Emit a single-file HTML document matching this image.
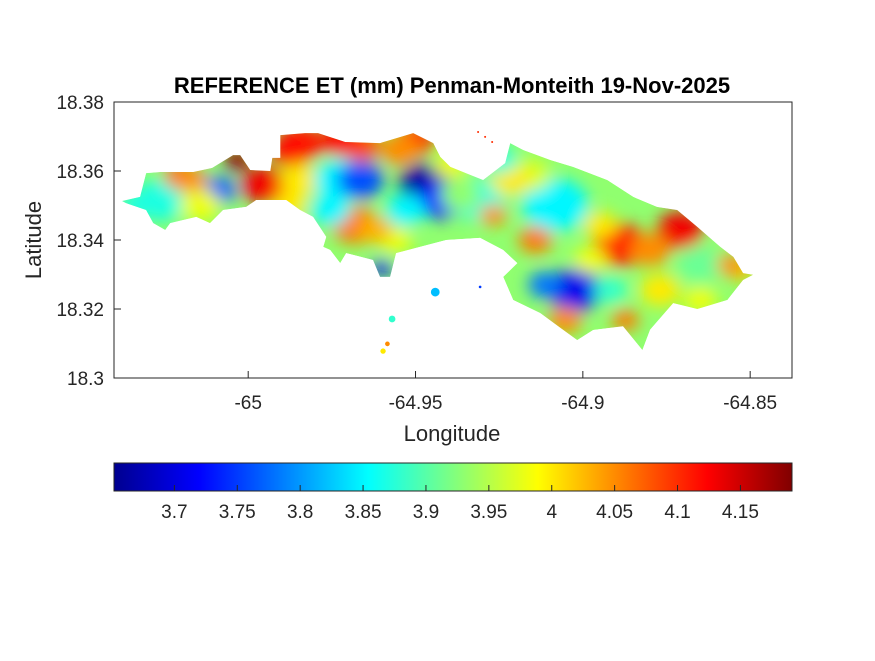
<!DOCTYPE html>
<html><head><meta charset="utf-8">
<style>
body{margin:0;background:#fff;}
svg text{font-family:"Liberation Sans",Arial,sans-serif;fill:#262626;}
</style></head>
<body>
<svg id="chart" width="875" height="656" viewBox="0 0 875 656" xmlns="http://www.w3.org/2000/svg">
<defs>
  <filter id="blur" x="-20%" y="-20%" width="140%" height="140%"><feGaussianBlur stdDeviation="8"/></filter>
  <linearGradient id="jet" x1="0" x2="1" y1="0" y2="0">
    <stop offset="0" stop-color="#00008F"/><stop offset="0.125" stop-color="#0000FF"/>
    <stop offset="0.375" stop-color="#00FFFF"/><stop offset="0.625" stop-color="#FFFF00"/>
    <stop offset="0.875" stop-color="#FF0000"/><stop offset="1" stop-color="#800000"/>
  </linearGradient>
  <clipPath id="islandClip"><polygon id="clipPoly"/></clipPath>
</defs>
<rect x="114" y="102" width="678" height="276" fill="#fff"/>
<g id="mapLayer" clip-path="url(#islandClip)">
  <polygon id="basePoly"/>
  <g id="blobs" filter="url(#blur)"></g>
</g>
<g id="islets"></g>
<rect x="114" y="102" width="678" height="276" fill="none" stroke="#262626" stroke-width="1"/>
<g id="ticks"></g>
<text x="452" y="93" text-anchor="middle" font-size="22" font-weight="bold" style="fill:#000">REFERENCE ET (mm) Penman-Monteith 19-Nov-2025</text>
<text x="452" y="441" text-anchor="middle" font-size="22">Longitude</text>
<text x="41" y="240" text-anchor="middle" font-size="22" transform="rotate(-90 41 240)">Latitude</text>
<rect x="114" y="463" width="678" height="28" fill="url(#jet)" stroke="#262626" stroke-width="1"/>
<g id="cbTicks"></g>
</svg>
<script>
const lonMin=-65.0401, lonMax=-64.8375, latMin=18.30, latMax=18.38;
const xTicks=[-65,-64.95,-64.9,-64.85];
const xTickLabels=["-65","-64.95","-64.9","-64.85"];
const yTicks=[18.38,18.36,18.34,18.32,18.30];
const yTickLabels=["18.38","18.36","18.34","18.32","18.3"];
const cbMin=3.652, cbMax=4.191;
const cbTicks=[3.7,3.75,3.8,3.85,3.9,3.95,4,4.05,4.1,4.15];
const cbTickLabels=["3.7","3.75","3.8","3.85","3.9","3.95","4","4.05","4.1","4.15"];
const outlineLon=[-65.0377,-65.0323,-65.0305,-65.0263,-65.0164,-65.0108,-65.0045,-65.0024,-64.9994,-64.9934,-64.9928,-64.9904,-64.9904,-64.9830,-64.9791,-64.9710,-64.9606,-64.9507,-64.9447,-64.9426,-64.9396,-64.9298,-64.9232,-64.9217,-64.9178,-64.9097,-64.9029,-64.8927,-64.8849,-64.8778,-64.8718,-64.8658,-64.8589,-64.8550,-64.8521,-64.8491,-64.8521,-64.8568,-64.8658,-64.8730,-64.8799,-64.8822,-64.8880,-64.8969,-64.9017,-64.9127,-64.9208,-64.9238,-64.9196,-64.9238,-64.9307,-64.9408,-64.9558,-64.9576,-64.9606,-64.9627,-64.9707,-64.9725,-64.9755,-64.9776,-64.9767,-64.9806,-64.9845,-64.9886,-64.9976,-65.0006,-65.0075,-65.0114,-65.0155,-65.0233,-65.0248,-65.0284,-65.0305,-65.0365];
const outlineLat=[18.3513,18.3525,18.3594,18.3597,18.3597,18.3609,18.3646,18.3646,18.3603,18.3600,18.3638,18.3638,18.3704,18.3710,18.3710,18.3684,18.3681,18.3710,18.3681,18.3641,18.3612,18.3574,18.3623,18.3681,18.3661,18.3632,18.3612,18.3574,18.3525,18.3496,18.3487,18.3438,18.3380,18.3351,18.3304,18.3299,18.3284,18.3226,18.3200,18.3217,18.3140,18.3081,18.3150,18.3139,18.3110,18.3188,18.3226,18.3293,18.3333,18.3371,18.3406,18.3400,18.3362,18.3293,18.3293,18.3342,18.3362,18.3333,18.3371,18.3380,18.3409,18.3467,18.3487,18.3516,18.3516,18.3496,18.3487,18.3449,18.3467,18.3449,18.3429,18.3449,18.3487,18.3507];
const baseValue=3.93;
const blobLon=[-65.0263,-65.0084,-65.0203,-65.0033,-64.9949,-64.9845,-64.9665,-64.9501,-64.9845,-64.9725,-64.9665,-64.9471,-64.9426,-64.9680,-64.9600,-64.9561,-64.9307,-64.9083,-64.9268,-64.9142,-64.9023,-64.9113,-64.8888,-64.8709,-64.8799,-64.8649,-64.8873,-64.8948,-64.8529,-64.9157,
 -65.0173,-65.0143,-65.0335,-64.9875,-64.9725,-64.9545,-64.9396,-64.9875,-64.9755,-64.9531,-64.9621,-64.9217,-64.9247,-64.8978,-64.8769,-64.8918,-64.9053,-64.8649,-64.8559,-64.9366];
const blobLat=[18.3516,18.3545,18.3586,18.3632,18.3559,18.3681,18.3675,18.3690,18.3574,18.3574,18.3574,18.3559,18.3516,18.3443,18.3319,18.3400,18.3516,18.3501,18.3472,18.3400,18.3255,18.3270,18.3386,18.3429,18.3371,18.3328,18.3168,18.3443,18.3313,18.3588,
 18.3574,18.3501,18.3501,18.3661,18.3690,18.3661,18.3617,18.3501,18.3487,18.3487,18.3429,18.3574,18.3632,18.3342,18.3255,18.3255,18.3168,18.3226,18.3328,18.3530];
const blobVal=[3.87,3.77,4.07,4.18,4.13,4.11,4.08,4.10,4.00,3.85,3.76,3.67,3.72,4.06,3.72,3.98,3.87,3.85,4.05,4.06,3.71,3.78,4.11,4.13,4.05,3.91,4.06,4.00,4.02,3.97,
 4.05,3.98,3.87,4.12,4.12,4.05,3.98,4.00,3.85,3.85,4.03,4.00,3.87,3.98,4.00,3.88,4.05,3.98,4.05,3.93];
const blobR=[0.008,0.005,0.005,0.004,0.007,0.007,0.006,0.006,0.006,0.008,0.007,0.008,0.007,0.007,0.003,0.005,0.008,0.010,0.004,0.005,0.008,0.005,0.008,0.007,0.006,0.007,0.004,0.005,0.004,0.006,
 0.005,0.006,0.005,0.006,0.006,0.006,0.005,0.005,0.006,0.006,0.005,0.006,0.005,0.005,0.006,0.005,0.005,0.005,0.004,0.006];
const isletLon=[-64.9441,-64.9570,-64.9584,-64.9597,-64.9307,-64.9313,-64.9292,-64.9271];
const isletLat=[18.3249,18.3171,18.3099,18.3078,18.3264,18.3713,18.3699,18.3684];
const isletVal=[3.82,3.88,4.05,4.00,3.75,4.10,4.10,4.10];
const isletR=[0.0013,0.0010,0.0007,0.0008,0.0004,0.0003,0.0003,0.0003];

const X=v=>114+(v-lonMin)/(lonMax-lonMin)*678;
const Y=v=>378-(v-latMin)/(latMax-latMin)*276;
const C=v=>114+(v-cbMin)/(cbMax-cbMin)*678;
const RX=r=>r/(lonMax-lonMin)*678;
function jet(v){
  let t=(v-cbMin)/(cbMax-cbMin); t=Math.max(0,Math.min(1,t));
  const f=x=>Math.max(0,Math.min(1,x));
  const r=f(1.5-Math.abs(4*t-3)), g=f(1.5-Math.abs(4*t-2)), b=f(1.5-Math.abs(4*t-1));
  return `rgb(${Math.round(r*255)},${Math.round(g*255)},${Math.round(b*255)})`;
}
const NS="http://www.w3.org/2000/svg";
const pts=outlineLon.map((lo,i)=>X(lo).toFixed(1)+","+Y(outlineLat[i]).toFixed(1)).join(" ");
document.getElementById('clipPoly').setAttribute('points',pts);
const bp=document.getElementById('basePoly');
bp.setAttribute('points',pts); bp.setAttribute('fill',jet(baseValue));
const bg=document.getElementById('blobs');
blobLon.forEach((lo,i)=>{
  const c=document.createElementNS(NS,'ellipse');
  
  
  c.setAttribute('cx',X(lo)); c.setAttribute('cy',Y(blobLat[i]));
  c.setAttribute('rx',RX(blobR[i])); c.setAttribute('ry',RX(blobR[i])*0.8);
  c.setAttribute('fill',jet(blobVal[i]));
  bg.appendChild(c);
});
const ig=document.getElementById('islets');
isletLon.forEach((lo,i)=>{
  const c=document.createElementNS(NS,'ellipse');
  
  
  c.setAttribute('cx',X(lo)); c.setAttribute('cy',Y(isletLat[i]));
  c.setAttribute('rx',RX(isletR[i])); c.setAttribute('ry',RX(isletR[i]));
  c.setAttribute('fill',jet(isletVal[i]));
  ig.appendChild(c);
});
const tg=document.getElementById('ticks');
xTicks.forEach((v,i)=>{
  const x=X(v);
  const l=document.createElementNS(NS,'line');
  
  
  l.setAttribute('x1',x);l.setAttribute('x2',x);l.setAttribute('y1',378);l.setAttribute('y2',371);
  l.setAttribute('stroke','#262626'); tg.appendChild(l);
  const t=document.createElementNS(NS,'text');
  
  
  t.setAttribute('x',x);t.setAttribute('y',409);t.setAttribute('text-anchor','middle');t.setAttribute('font-size','19');
  t.textContent=xTickLabels[i]; tg.appendChild(t);
});
yTicks.forEach((v,i)=>{
  const y=Y(v);
  const l=document.createElementNS(NS,'line');
  
  
  l.setAttribute('x1',114);l.setAttribute('x2',121);l.setAttribute('y1',y);l.setAttribute('y2',y);
  l.setAttribute('stroke','#262626'); tg.appendChild(l);
  const t=document.createElementNS(NS,'text');
  
  
  t.setAttribute('x',104);t.setAttribute('y',y+7);t.setAttribute('text-anchor','end');t.setAttribute('font-size','19');
  t.textContent=yTickLabels[i]; tg.appendChild(t);
});
const cg=document.getElementById('cbTicks');
cbTicks.forEach((v,i)=>{
  const x=C(v);
  const l=document.createElementNS(NS,'line');
  
  
  l.setAttribute('x1',x);l.setAttribute('x2',x);l.setAttribute('y1',491);l.setAttribute('y2',485);
  l.setAttribute('stroke','#262626'); cg.appendChild(l);
  const t=document.createElementNS(NS,'text');
  
  
  t.setAttribute('x',x);t.setAttribute('y',518);t.setAttribute('text-anchor','middle');t.setAttribute('font-size','19');
  t.textContent=cbTickLabels[i]; cg.appendChild(t);
});
</script>
</body></html>
